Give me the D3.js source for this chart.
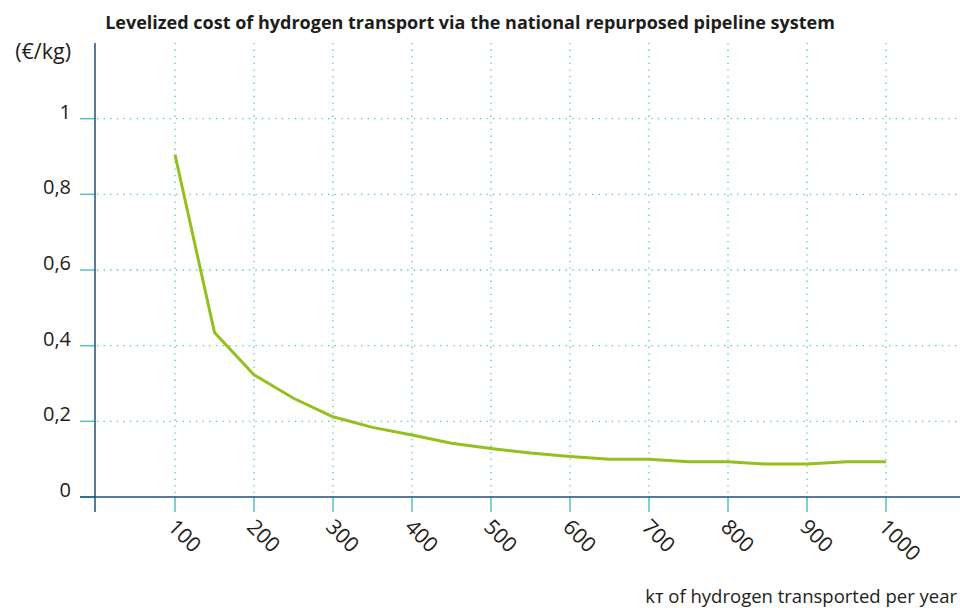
<!DOCTYPE html>
<html>
<head>
<meta charset="utf-8">
<script src="https://cdn.jsdelivr.net/npm/d3@7"></script>
<style>
  body { margin: 0; background: #fff; }
  text { font-family: "Open Sans", "Noto Sans", sans-serif; fill: #1d1d1b; }
</style>
</head>
<body>
<div id="chart"></div>
<script>
// data
const volumes = [100, 150, 200, 250, 300, 350, 400, 450, 500, 550, 600, 650, 700, 750, 800, 850, 900, 950, 1000];
const costs = [0.905, 0.435, 0.323, 0.261, 0.212, 0.184, 0.164, 0.142, 0.128, 0.116, 0.107, 0.100, 0.100, 0.093, 0.093, 0.087, 0.087, 0.093, 0.093];
const xTicks = [100, 200, 300, 400, 500, 600, 700, 800, 900, 1000];
const yTicks = [0, 0.2, 0.4, 0.6, 0.8, 1];

const width = 960, height = 608;
const gridColor = '#4fc4c0';
const axisColor = '#1f4f7a';

const svg = d3.select('#chart').append('svg')
    .attr('width', width)
    .attr('height', height);

const x = d3.scaleLinear().domain([0, 1100]).range([96, 965]);
const y = d3.scaleLinear().domain([0, 1.2]).range([497, 43]);

// grid
const grid = svg.append('g');
yTicks.filter(d => d > 0).forEach(v => {
    grid.append('line')
        .attr('x1', 97).attr('x2', width)
        .attr('y1', y(v)).attr('y2', y(v))
        .attr('stroke', gridColor)
        .attr('stroke-width', 1.3)
        .attr('stroke-dasharray', '1.3,5.3');
});
xTicks.forEach(v => {
    grid.append('line')
        .attr('x1', x(v)).attr('x2', x(v))
        .attr('y1', y(1.2)).attr('y2', y(0))
        .attr('stroke', gridColor)
        .attr('stroke-width', 1.3)
        .attr('stroke-dasharray', '1.3,5.3');
});

// tick marks
yTicks.forEach(v => {
    svg.append('line')
        .attr('x1', 80).attr('x2', 95)
        .attr('y1', y(v)).attr('y2', y(v))
        .attr('stroke', gridColor).attr('stroke-width', 1.5);
});
xTicks.forEach(v => {
    svg.append('line')
        .attr('x1', x(v)).attr('x2', x(v))
        .attr('y1', y(0)).attr('y2', y(0) + 15)
        .attr('stroke', gridColor).attr('stroke-width', 1.5);
});

// axis lines
svg.append('line')
    .attr('x1', 80).attr('x2', width)
    .attr('y1', y(0)).attr('y2', y(0))
    .attr('stroke', axisColor).attr('stroke-width', 1.5);
svg.append('line')
    .attr('x1', 95).attr('x2', 95)
    .attr('y1', y(1.2)).attr('y2', y(0) + 15)
    .attr('stroke', axisColor).attr('stroke-width', 1.5);

// y labels
svg.append('g').selectAll('text')
    .data(yTicks)
    .enter().append('text')
    .attr('x', 71)
    .attr('y', d => y(d))
    .attr('text-anchor', 'end')
    .style('font-size', '20px')
    .text(d => d3.format('.1~f')(d).replace('.', ','));

svg.append('text')
    .attr('x', 71).attr('y', 59)
    .attr('text-anchor', 'end')
    .style('font-size', '21.5px')
    .text('(€/kg)');

// x labels
svg.append('g').selectAll('text')
    .data(xTicks)
    .enter().append('text')
    .attr('transform', d => `translate(${x(d) - 3},${523}) rotate(45)`)
    .attr('dy', '0.35em')
    .style('font-size', '21px')
    .text(d => d);

// line
const line = d3.line()
    .x((d, i) => x(volumes[i]))
    .y(d => y(d));

svg.append('path')
    .datum(costs)
    .attr('d', line)
    .attr('fill', 'none')
    .attr('stroke', '#93c01f')
    .attr('stroke-width', 3);

// titles
svg.append('text')
    .attr('x', 470).attr('y', 29)
    .attr('text-anchor', 'middle')
    .style('font-size', '18px')
    .style('font-weight', 'bold')
    .text('Levelized cost of hydrogen transport via the national repurposed pipeline system');

svg.append('text')
    .attr('x', 957).attr('y', 603)
    .attr('text-anchor', 'end')
    .style('font-size', '18.5px')
    .text('kᴛ of hydrogen transported per year');
</script>
</body>
</html>
